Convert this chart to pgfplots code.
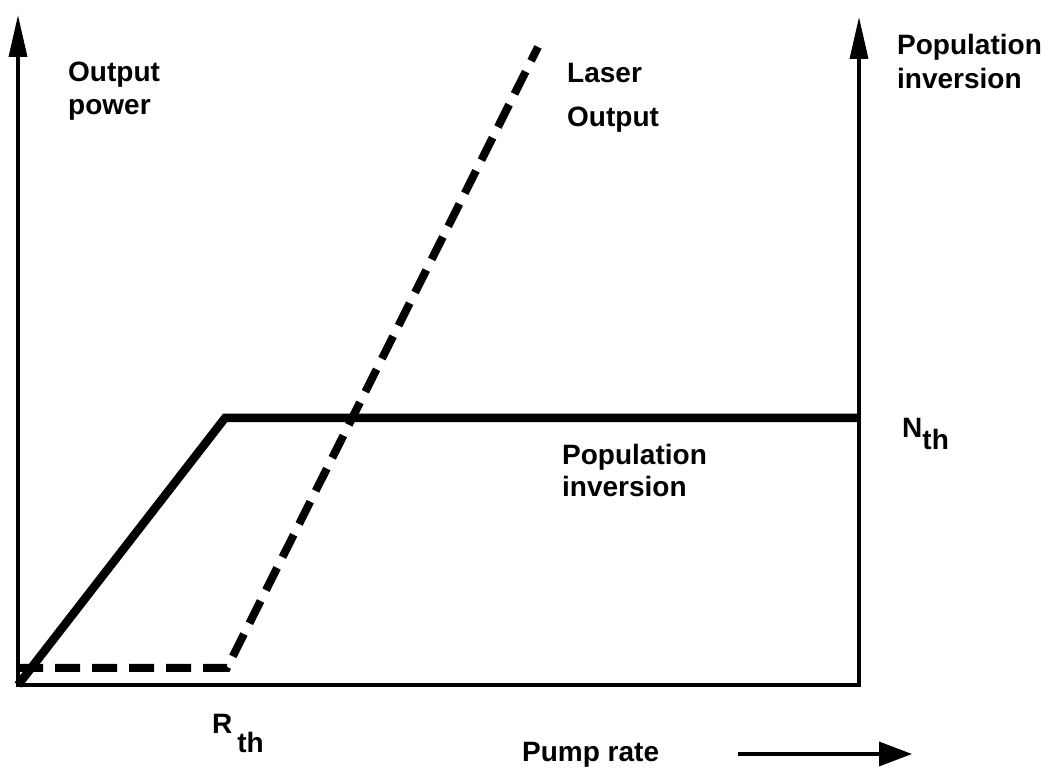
\documentclass[border=0pt]{standalone}
\usepackage{pgfplots}
\pgfplotsset{compat=1.18}
\usepackage{fontspec}
\setmainfont{Liberation Sans}
\usetikzlibrary{arrows.meta}
\begin{document}
\begin{tikzpicture}
\begin{axis}[
  scale only axis, width=841bp, height=670bp,
  xmin=0, xmax=841, ymin=0, ymax=670,
  hide axis, clip=false,
]
\path (axis cs:-18,-88) rectangle (axis cs:1036,685);
% axes
\draw[line width=3.5bp, -{Triangle[length=42bp,width=18bp]}] (axis cs:0,0) -- (axis cs:0,670);
\draw[line width=3.5bp, -{Triangle[length=42bp,width=18bp]}] (axis cs:841,0) -- (axis cs:841,668);
\draw[line width=3.5bp] (axis cs:-1.75,0) -- (axis cs:842.75,0);
% population inversion (solid)
\addplot[black, line width=8.5bp, line join=miter] coordinates {(0,0) (207,267) (841,267)};
% laser output (dashed)
\addplot[black, line width=8bp, dash pattern=on 25bp off 12bp] coordinates {(0,17) (209,17) (520,638)};
% labels
\tikzset{lab/.style={anchor=base west, inner sep=0pt, font=\fontsize{28bp}{33bp}\selectfont\bfseries}}
\node[lab] at (axis cs:50,603) {Output};
\node[lab] at (axis cs:50,570) {power};
\node[lab] at (axis cs:549,602) {Laser};
\node[lab] at (axis cs:549,558) {Output};
\node[lab] at (axis cs:879,630) {Population};
\node[lab] at (axis cs:879,596) {inversion};
\node[lab] at (axis cs:544,220) {Population};
\node[lab] at (axis cs:544,188) {inversion};
\node[lab] at (axis cs:884,247) {N\lower12bp\hbox{th}};
\node[lab] at (axis cs:194,-49) {R\kern5bp\lower19bp\hbox{th}};
\node[lab] at (axis cs:504,-77) {Pump rate};
\draw[line width=3.5bp, -{Triangle[length=33bp,width=24bp]}] (axis cs:720,-69) -- (axis cs:894,-69);
\end{axis}
\end{tikzpicture}
\end{document}
